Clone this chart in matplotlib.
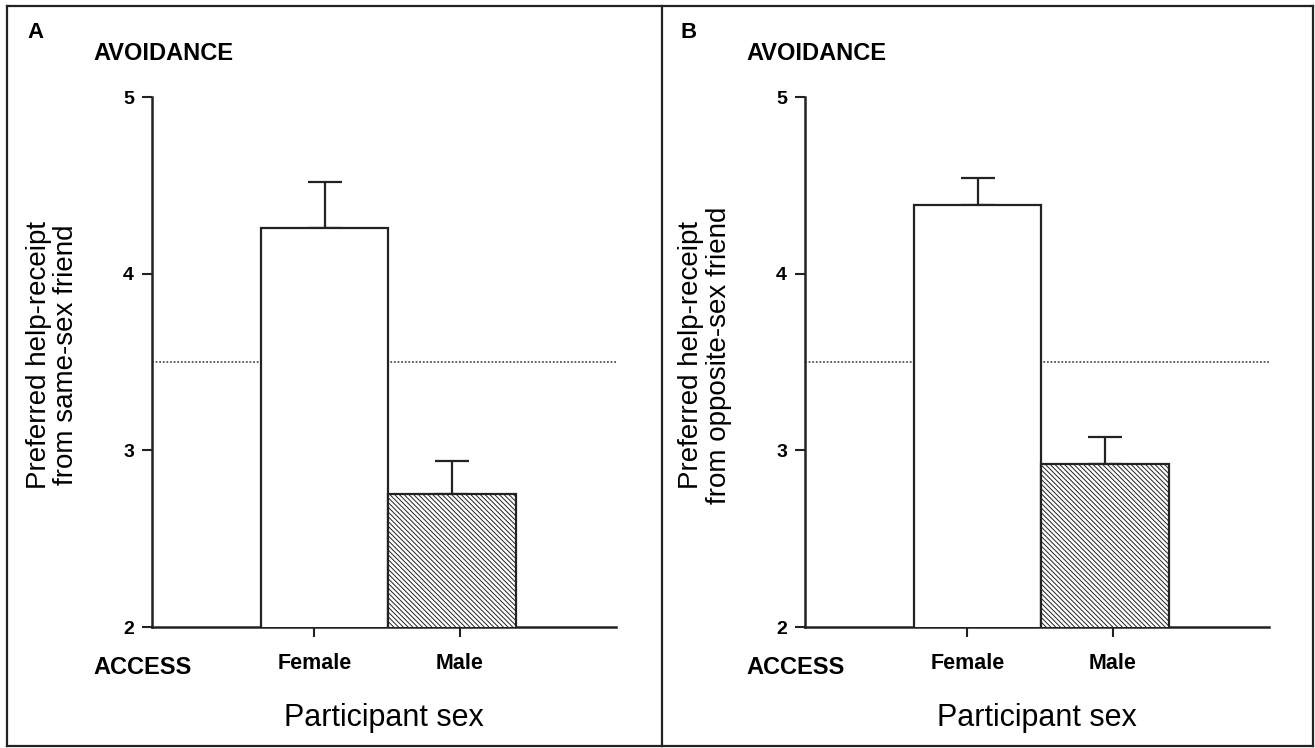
import matplotlib
matplotlib.use("Agg")
import matplotlib.pyplot as plt
from matplotlib.lines import Line2D

plt.rcParams["font.family"] = ["Liberation Sans", "DejaVu Sans"]
plt.rcParams["hatch.linewidth"] = 0.7
plt.rcParams["hatch.color"] = "#8c8c8c"

W, H = 1315, 748

categories = ["Female", "Male"]
panel_letters = ["A", "B"]
ylabels = ["Preferred help-receipt\nfrom same-sex friend",
           "Preferred help-receipt\nfrom opposite-sex friend"]
means_a = [4.26, 2.75]
errs_a = [0.26, 0.19]
means_b = [4.39, 2.92]
errs_b = [0.15, 0.155]
reference_line = 3.5
yticks = [2, 3, 4, 5]
# tick marks in the original sit a bit off the bar centres
tick_pos = [-0.08, 1.06]


def draw_panel(fig, x0, letter, ylabel, means, errs):
    # axes box in pixels: y axis at x0, x axis runs 464 px
    ax = fig.add_axes([x0 / W, 1 - 627 / H, 464 / W, 530 / H])
    xs = [0, 1]
    ax.bar(xs[0], means[0], width=1, bottom=0, color="white",
           edgecolor="#222222", linewidth=1.6, zorder=3)
    ax.bar(xs[1], means[1], width=1, bottom=0, color="white",
           edgecolor="#222222", linewidth=1.6, hatch="\\\\\\\\\\\\\\", zorder=3)
    ax.errorbar(xs, means, yerr=[[0, 0], errs], fmt="none", ecolor="#222222",
                elinewidth=1.6, capsize=12, capthick=1.6, zorder=2)
    ax.axhline(reference_line, color="#555555", linestyle=(0, (1, 1)),
               linewidth=1.3, zorder=1)
    ax.set_xlim(-1.353, 2.286)
    ax.set_ylim(2, 5)
    ax.set_yticks(yticks)
    ax.set_yticklabels([str(t) for t in yticks], fontsize=14, fontweight="bold")
    ax.set_xticks(tick_pos)
    ax.set_xticklabels(categories, fontsize=15.5, fontweight="bold")
    ax.tick_params(axis="both", direction="out", length=7, width=1.5,
                   color="#222222", pad=6)
    ax.tick_params(axis="x", pad=12)
    for side in ["top", "right"]:
        ax.spines[side].set_visible(False)
    for side in ["left", "bottom"]:
        ax.spines[side].set_linewidth(1.8)
        ax.spines[side].set_color("#222222")
    ax.set_ylabel(ylabel, fontsize=20, linespacing=1.05)
    ax.yaxis.set_label_coords((52 - 152) / 464, (627 - 355) / 530)
    ax.yaxis.label.set_verticalalignment("center")
    ax.set_xlabel("Participant sex", fontsize=22)
    ax.xaxis.set_label_coords((384 - 152) / 464, -(718 - 627) / 530)
    ax.xaxis.label.set_verticalalignment("center")

    dx = x0 - 152
    fig.text((27 + dx) / W, 1 - 33 / H, letter, fontsize=16,
             fontweight="bold", va="center", ha="left")
    fig.text((93 + dx) / W, 1 - 53 / H, "AVOIDANCE", fontsize=17,
             fontweight="bold", va="center", ha="left")
    fig.text((93 + dx) / W, 1 - 668 / H, "ACCESS", fontsize=17,
             fontweight="bold", va="center", ha="left")


fig = plt.figure(figsize=(W / 100, H / 100), dpi=100)
draw_panel(fig, 152, panel_letters[0], ylabels[0], means_a, errs_a)
draw_panel(fig, 805, panel_letters[1], ylabels[1], means_b, errs_b)

# outer frame and divider
for xs_, ys_ in [([7, 7], [6, 746]), ([7, 1313], [6, 6]),
                 ([662, 662], [6, 746]), ([1313, 1313], [6, 746]),
                 ([7, 1313], [746, 746])]:
    fig.add_artist(Line2D([x / W for x in xs_], [1 - y / H for y in ys_],
                          color="#222222", linewidth=1.6))

fig.savefig("out.png", dpi=100)
